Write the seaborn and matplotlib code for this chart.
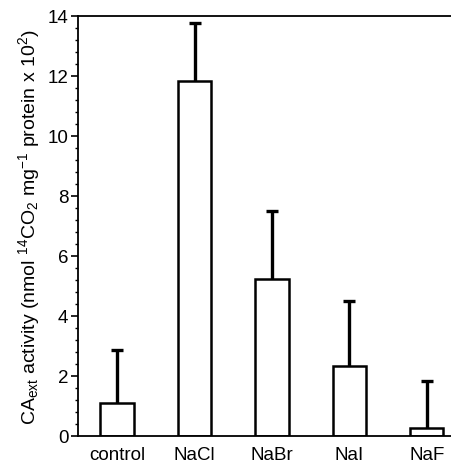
import matplotlib.pyplot as plt
import pandas as pd
import seaborn as sns
from matplotlib import ticker

salts = ["control", "NaCl", "NaBr", "NaI", "NaF"]
activity = [1.1, 11.83, 5.23, 2.33, 0.25]
upper_err = [1.75, 1.94, 2.27, 2.17, 1.58]


def main() -> None:
    sns.set_theme(style="ticks")
    plt.rcParams["font.family"] = ["Liberation Sans", "DejaVu Sans"]
    plt.rcParams["mathtext.fontset"] = "custom"
    plt.rcParams["mathtext.rm"] = "Liberation Sans"
    plt.rcParams["mathtext.it"] = "Liberation Sans"
    plt.rcParams["text.color"] = "black"
    plt.rcParams["axes.labelcolor"] = "black"
    plt.rcParams["xtick.color"] = "black"
    plt.rcParams["ytick.color"] = "black"

    df = pd.DataFrame({"salt": salts, "activity": activity, "err": upper_err})

    fig = plt.figure(figsize=(4.52, 4.64), dpi=100)
    ax = fig.add_axes([0.1726, 0.0582, 0.83, 0.9052])

    sns.barplot(
        data=df,
        x="salt",
        y="activity",
        color="white",
        edgecolor="black",
        linewidth=1.8,
        width=0.43,
        errorbar=None,
        ax=ax,
    )

    # upper-only error bars: stem behind the bar, cap drawn separately
    centers = [p.get_x() + p.get_width() / 2 for p in ax.patches]
    tops = df["activity"] + df["err"]
    ax.vlines(centers, df["activity"], tops, color="black", linewidth=2.4, zorder=0.5)
    ax.plot(centers, tops, linestyle="none", marker="_", markersize=8,
            markeredgewidth=2.4, color="black", zorder=0.6)

    ax.set_xlim(-0.505, 4.34)
    ax.set_ylim(0, 14)
    ax.yaxis.set_major_locator(ticker.MultipleLocator(2))
    ax.yaxis.set_minor_locator(ticker.MultipleLocator(0.4))
    ax.tick_params(axis="y", which="major", length=5, width=1.2, labelsize=13.5, pad=2)
    ax.tick_params(axis="y", which="minor", length=2.5, width=1.0)
    ax.tick_params(axis="x", length=0, labelsize=13.5, pad=7)

    for side in ["left", "bottom", "top"]:
        ax.spines[side].set_linewidth(1.3)
        ax.spines[side].set_color("black")
    ax.spines["right"].set_visible(False)

    ax.set_xlabel("")
    ax.set_ylabel(
        r"CA$_{\mathrm{ext}}$ activity (nmol $^{14}$CO$_2$ mg$^{-1}$ protein x 10$^2$)",
        fontsize=14,
        labelpad=4,
    )

    fig.savefig("out.png", dpi=100)
    plt.close(fig)


if __name__ == "__main__":
    main()
